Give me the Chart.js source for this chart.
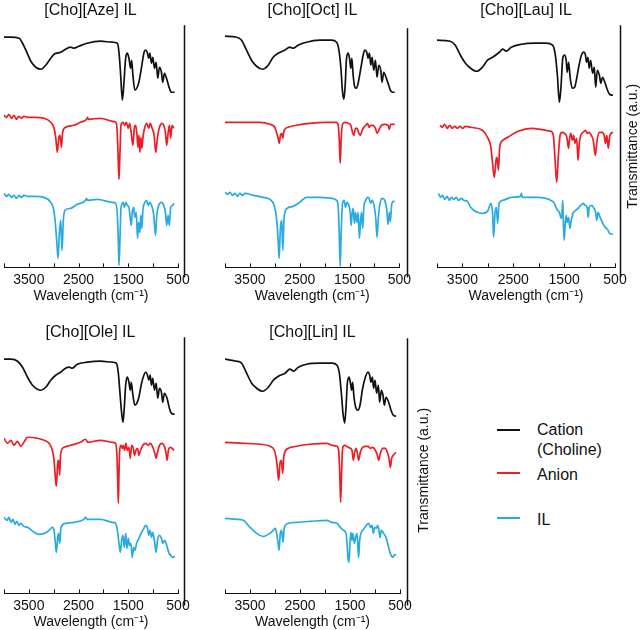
<!DOCTYPE html>
<html>
<head>
<meta charset="utf-8">
<script src="https://cdn.jsdelivr.net/npm/chart.js@4/dist/chart.umd.min.js"></script>
<style>
  body { margin: 0; background: #fff; width: 643px; height: 630px; position: relative; overflow: hidden;
         font-family: "Liberation Sans", Arial, Helvetica, sans-serif; color: #111; }
  canvas { position: absolute; }
  .sw { position: absolute; left: 497px; width: 23px; height: 2px; }
  .tx { position: absolute; left: 537px; font-size: 16px; line-height: 20px; }
</style>
</head>
<body>
<canvas id="aze" width="200" height="305" style="left:0;top:0"></canvas>
<canvas id="oct" width="205" height="305" style="left:210px;top:0"></canvas>
<canvas id="lau" width="223" height="305" style="left:420px;top:0"></canvas>
<canvas id="ole" width="200" height="309" style="left:0;top:322px"></canvas>
<canvas id="lin" width="222" height="309" style="left:210px;top:322px"></canvas>

<div class="sw" style="top:429px;background:#111"></div>
<div class="tx" style="top:420px">Cation<br>(Choline)</div>
<div class="sw" style="top:472px;background:#ee1c25"></div>
<div class="tx" style="top:465px">Anion</div>
<div class="sw" style="top:517px;background:#29abe2"></div>
<div class="tx" style="top:510px">IL</div>

<script>
// x ticks (cm-1) and trace colours
const wnMin = 500, wnMax = 4000, wnStep = 500;
const seriesNames = ['Cation (Choline)', 'Anion', 'IL'];
const seriesColors = ['#111111', '#ee1c25', '#29abe2'];

// Spectra: [wavenumber, transmittance (a.u., stacked offset)]
const azeCation = [[4000,230],[3860,230],[3693,229],[3627,224],[3560,217],[3460,206],[3360,200],[3260,198],[3160,202],[3060,209],[2993,213],[2860,215],[2727,219],[2660,220],[2593,219],[2493,221],[2327,224],[2060,226],[1820,225],[1720,224],[1687,215],[1653,192],[1620,167],[1587,185],[1553,209],[1520,214],[1487,209],[1453,199],[1433,207],[1407,192],[1367,177],[1320,180],[1287,185],[1233,200],[1187,214],[1153,217],[1120,215],[1087,209],[1067,214],[1033,204],[1007,210],[973,199],[940,205],[907,189],[873,200],[833,195],[807,185],[773,194],[720,187],[673,179],[633,175],[567,175]];
const azeAnion = [[4000,152],[3950,150],[3900,153],[3850,149],[3800,152],[3750,148],[3700,151],[3650,149],[3600,151],[3530,150],[3393,150],[3193,149],[3060,145],[2993,139],[2960,130],[2927,115],[2900,129],[2873,132],[2847,120],[2820,135],[2760,140],[2593,142],[2460,145],[2340,148],[2320,150],[2300,148],[2060,149],[1820,146],[1753,145],[1727,139],[1707,115],[1687,88],[1667,115],[1647,142],[1607,145],[1573,142],[1540,145],[1500,139],[1473,144],[1440,134],[1407,122],[1380,139],[1353,142],[1327,134],[1307,120],[1287,132],[1267,115],[1247,130],[1227,119],[1200,132],[1167,140],[1127,144],[1087,139],[1060,144],[1020,139],[980,132],[947,115],[913,130],[873,140],[820,144],[787,142],[753,135],[727,122],[700,134],[673,142],[647,129],[620,142],[587,139]];
const azeIL = [[4000,74],[3950,71],[3900,73],[3850,70],[3800,72],[3750,69],[3700,72],[3650,70],[3600,72],[3530,71],[3393,71],[3193,70],[3060,65],[3007,59],[2973,47],[2940,27],[2913,9],[2887,34],[2860,47],[2833,17],[2807,47],[2773,57],[2660,59],[2527,63],[2360,67],[2340,69],[2320,67],[2127,68],[1820,65],[1753,64],[1720,52],[1700,25],[1687,2],[1667,29],[1647,59],[1607,65],[1580,60],[1553,65],[1520,62],[1487,60],[1460,49],[1440,42],[1420,55],[1393,60],[1367,50],[1340,55],[1313,29],[1293,45],[1267,35],[1247,52],[1227,39],[1207,57],[1173,64],[1133,67],[1100,62],[1067,65],[1020,60],[987,52],[953,32],[927,52],[887,62],[833,65],[787,62],[753,55],[727,42],[700,52],[673,42],[647,60],[607,62],[580,64]];

const octCation = [[4000,231],[3767,230],[3667,227],[3567,217],[3467,207],[3367,201],[3247,198],[3133,202],[3033,210],[2933,214],[2800,217],[2700,220],[2633,219],[2533,222],[2367,225],[2100,227],[1860,227],[1760,225],[1713,217],[1673,199],[1640,175],[1613,168],[1587,182],[1560,209],[1527,214],[1500,209],[1473,199],[1453,209],[1427,192],[1393,180],[1360,179],[1327,184],[1273,199],[1227,212],[1193,217],[1153,215],[1127,209],[1100,214],[1073,202],[1047,210],[1013,197],[980,207],[947,190],[913,202],[873,197],[847,185],[813,195],[760,189],[713,182],[680,177],[627,175],[593,175]];
const octAnion = [[4000,145],[3633,145],[3300,145],[3100,143],[3000,140],[2967,135],[2933,129],[2913,124],[2887,132],[2860,134],[2840,129],[2813,137],[2733,140],[2567,142],[2300,144],[1967,145],[1860,145],[1760,145],[1727,142],[1707,129],[1687,104],[1667,129],[1640,143],[1593,145],[1527,144],[1473,142],[1440,135],[1413,132],[1380,139],[1347,139],[1313,134],[1280,132],[1247,137],[1213,140],[1173,142],[1140,144],[1107,140],[1073,142],[1027,142],[980,139],[947,134],[913,137],[860,142],[793,143],[727,142],[700,138],[673,143],[593,143]];
const octIL = [[4000,75],[3950,73],[3900,75],[3850,72],[3800,74],[3750,71],[3700,74],[3650,72],[3600,74],[3433,72],[3233,70],[3100,68],[3013,62],[2967,50],[2933,27],[2913,9],[2887,40],[2860,47],[2840,17],[2813,50],[2753,59],[2633,61],[2500,65],[2367,70],[2100,70],[1860,69],[1760,67],[1727,60],[1707,35],[1687,1],[1667,35],[1640,64],[1607,67],[1580,60],[1553,65],[1513,62],[1487,55],[1467,42],[1447,54],[1427,59],[1400,44],[1380,55],[1347,45],[1327,55],[1300,29],[1280,45],[1260,55],[1233,39],[1213,60],[1173,67],[1140,70],[1107,69],[1073,64],[1047,67],[1007,62],[973,49],[947,30],[920,50],[887,64],[840,69],[793,67],[753,58],[727,43],[700,55],[680,46],[653,63],[620,66],[593,66]];

const lauCation = [[4000,227],[3740,226],[3640,222],[3540,212],[3440,204],[3340,199],[3220,196],[3107,200],[3007,207],[2907,210],[2773,215],[2707,218],[2640,216],[2540,220],[2340,223],[2073,224],[1860,224],[1727,222],[1673,212],[1633,192],[1593,165],[1560,182],[1527,209],[1493,212],[1460,207],[1440,195],[1413,205],[1380,189],[1340,179],[1293,180],[1260,187],[1207,202],[1160,212],[1113,215],[1080,212],[1060,205],[1033,210],[1007,199],[980,207],[940,194],[907,200],[880,180],[847,197],[807,192],[780,184],[747,190],[693,184],[647,177],[607,173],[540,172]];
const lauAnion = [[3940,142],[3900,140],[3850,143],[3800,139],[3750,142],[3700,139],[3650,141],[3600,139],[3550,141],[3500,139],[3440,141],[3340,140],[3107,137],[3007,130],[2940,120],[2907,104],[2873,90],[2840,107],[2820,110],[2793,97],[2767,120],[2707,127],[2607,130],[2407,136],[2140,139],[1860,137],[1760,136],[1713,132],[1680,109],[1647,85],[1613,112],[1580,132],[1547,135],[1493,134],[1447,130],[1413,119],[1393,129],[1367,134],[1340,127],[1313,132],[1287,124],[1253,129],[1227,107],[1200,125],[1173,132],[1127,135],[1080,137],[1047,134],[1007,135],[967,132],[927,127],[887,112],[853,127],[807,135],[760,135],[713,132],[687,124],[660,132],[633,119],[600,132],[540,135]];
const lauIL = [[3973,74],[3930,70],[3890,72],[3850,68],[3800,71],[3760,67],[3720,70],[3673,68],[3620,70],[3580,67],[3520,69],[3473,67],[3400,66],[3340,60],[3207,55],[3107,54],[3007,56],[2940,64],[2907,54],[2887,30],[2860,54],[2833,60],[2807,44],[2780,64],[2707,67],[2540,70],[2360,71],[2340,74],[2320,70],[2007,70],[1860,69],[1760,67],[1693,64],[1660,60],[1627,57],[1593,55],[1560,49],[1540,55],[1527,67],[1513,42],[1500,27],[1480,42],[1460,52],[1440,45],[1413,50],[1387,39],[1360,47],[1327,54],[1273,57],[1227,59],[1173,62],[1127,64],[1087,62],[1047,60],[1027,50],[1007,60],[960,62],[913,59],[880,55],[860,47],[833,55],[793,50],[740,44],[693,40],[647,38],[607,34],[540,33]];

const oleCation = [[4000,234],[3860,234],[3727,232],[3627,226],[3527,216],[3427,208],[3327,204],[3260,203],[3160,206],[3060,213],[2960,218],[2860,221],[2760,225],[2693,226],[2627,225],[2527,229],[2327,231],[2060,232],[1820,231],[1740,230],[1700,220],[1667,200],[1633,180],[1607,171],[1580,186],[1553,208],[1520,216],[1487,211],[1460,203],[1440,211],[1407,198],[1367,188],[1327,190],[1287,196],[1233,210],[1187,218],[1147,221],[1113,218],[1087,213],[1060,218],[1033,208],[1007,215],[973,203],[940,210],[907,195],[873,205],[833,201],[807,191],[773,200],[720,195],[673,185],[633,180],[567,179]];
const oleAnion = [[4000,155],[3930,150],[3860,153],[3800,148],[3730,152],[3660,147],[3600,151],[3527,156],[3327,155],[3193,153],[3093,150],[3027,143],[2993,133],[2967,116],[2947,107],[2920,130],[2900,133],[2880,118],[2860,140],[2793,146],[2660,148],[2460,151],[2360,154],[2313,151],[2060,153],[1820,151],[1753,150],[1727,136],[1713,113],[1700,90],[1687,120],[1673,143],[1647,148],[1620,145],[1600,148],[1573,143],[1547,150],[1520,143],[1487,146],[1460,135],[1433,148],[1400,145],[1373,138],[1347,143],[1313,145],[1287,138],[1253,143],[1207,148],[1153,150],[1100,148],[1053,150],[1007,146],[967,140],[940,135],[913,141],[873,148],[820,150],[767,146],[740,140],[720,133],[693,143],[653,146],[620,145],[580,143]];
const oleIL = [[4000,76],[3940,73],[3900,76],[3860,71],[3820,74],[3780,69],[3740,72],[3700,68],[3660,70],[3600,67],[3527,66],[3393,61],[3293,59],[3193,60],[3093,63],[3027,66],[2993,63],[2967,50],[2947,41],[2920,56],[2900,60],[2880,50],[2853,66],[2760,70],[2593,71],[2393,74],[2360,76],[2327,74],[2060,74],[1820,71],[1753,70],[1720,63],[1687,50],[1660,41],[1633,53],[1607,58],[1580,46],[1553,60],[1527,45],[1500,55],[1473,48],[1447,50],[1420,36],[1393,46],[1367,43],[1333,50],[1287,55],[1233,61],[1187,65],[1147,68],[1113,65],[1087,58],[1060,63],[1033,56],[1007,61],[967,50],[940,41],[913,53],[873,58],[833,55],[807,50],[767,53],[727,48],[687,41],[647,38],[607,36],[567,37]];

const linCation = [[4000,234],[3767,232],[3667,230],[3567,220],[3467,210],[3367,205],[3247,202],[3133,206],[3033,213],[2933,217],[2800,220],[2700,224],[2633,222],[2533,226],[2367,229],[2100,230],[1860,230],[1760,228],[1713,220],[1673,200],[1640,180],[1607,170],[1580,186],[1553,210],[1520,216],[1493,211],[1467,203],[1447,211],[1420,196],[1380,185],[1340,183],[1300,188],[1247,205],[1193,216],[1140,221],[1107,218],[1080,211],[1053,216],[1027,205],[1000,213],[967,200],[933,208],[907,191],[873,203],[840,198],[813,188],[780,196],[727,191],[680,183],[633,178],[580,177]];
const linAnion = [[4000,151],[3633,150],[3300,149],[3100,147],[3013,143],[2980,136],[2953,126],[2927,113],[2900,130],[2873,133],[2847,120],[2820,138],[2733,145],[2567,147],[2300,149],[1967,150],[1860,148],[1760,147],[1727,143],[1707,123],[1687,91],[1667,123],[1647,145],[1607,148],[1540,146],[1493,145],[1460,143],[1433,133],[1407,141],[1380,145],[1353,140],[1327,133],[1293,141],[1247,146],[1193,147],[1140,147],[1093,145],[1047,146],[993,143],[953,138],[927,133],[893,140],[847,145],[793,145],[753,141],[720,135],[693,126],[667,135],[633,138],[580,141]];
const linIL = [[4000,75],[3767,74],[3633,73],[3500,66],[3367,60],[3233,57],[3100,60],[3033,63],[2993,65],[2967,60],[2940,51],[2920,43],[2893,60],[2867,63],[2840,51],[2813,66],[2733,70],[2567,71],[2300,72],[1967,73],[1860,71],[1760,70],[1693,66],[1627,63],[1580,60],[1560,50],[1540,36],[1520,31],[1500,50],[1480,61],[1460,53],[1440,60],[1413,50],[1387,56],[1360,60],[1340,45],[1327,36],[1307,53],[1273,61],[1227,64],[1173,68],[1127,70],[1087,66],[1060,68],[1033,60],[1007,66],[973,65],[947,68],[920,63],[900,56],[873,63],[827,60],[780,56],[727,46],[687,39],[647,36],[620,38],[580,39]];

// inward x tick marks, the right-hand frame line and the rotated y label
const panelFrame = {
  id: 'panelFrame',
  afterDraw(chart, args, opts) {
    const { ctx, chartArea } = chart;
    const xs = chart.scales.x;
    ctx.save();
    ctx.strokeStyle = '#111';
    ctx.lineWidth = 1;
    xs.ticks.forEach(t => {
      const px = Math.round(xs.getPixelForValue(t.value)) + 0.5;
      ctx.beginPath();
      ctx.moveTo(px, chartArea.bottom);
      ctx.lineTo(px, chartArea.bottom - 4);
      ctx.stroke();
    });
    const lx = Math.round(chartArea.right + opts.gap) + 0.5;
    ctx.lineWidth = 1.5;
    ctx.beginPath();
    ctx.moveTo(lx, chartArea.top - opts.above);
    ctx.lineTo(lx, chartArea.bottom + opts.below);
    ctx.stroke();
    if (opts.label) {
      ctx.translate(chartArea.right + opts.labelGap, (chartArea.top + chartArea.bottom) / 2);
      ctx.rotate(-Math.PI / 2);
      ctx.font = '14px "Liberation Sans", Arial, sans-serif';
      ctx.fillStyle = '#111';
      ctx.textAlign = 'center';
      ctx.textBaseline = 'middle';
      ctx.fillText(opts.label, 0, 0);
    }
    ctx.restore();
  }
};

Chart.defaults.font.family = '"Liberation Sans", Arial, Helvetica, sans-serif';
Chart.defaults.color = '#111';

function makePanel(id, title, traces, cfg) {
  new Chart(document.getElementById(id), {
    type: 'line',
    data: {
      datasets: traces.map((pts, i) => ({
        label: seriesNames[i],
        data: pts.map(([x, y]) => ({ x, y })),
        borderColor: seriesColors[i],
        borderWidth: 1.7,
        pointRadius: 0,
        cubicInterpolationMode: 'monotone',
        fill: false
      }))
    },
    options: {
      responsive: false,
      animation: false,
      events: [],
      layout: { padding: { left: cfg.padL, right: cfg.padR, top: 0, bottom: 0 } },
      scales: {
        x: {
          type: 'linear',
          reverse: true,
          min: wnMin,
          max: wnMax,
          grid: { drawOnChartArea: false, drawTicks: false },
          border: { display: true, color: '#111', width: 1 },
          ticks: {
            stepSize: wnStep,
            autoSkip: false,
            maxRotation: 0,
            padding: 4,
            font: { size: 14 },
            color: '#111',
            callback: v => (v % 1000 === 500 ? String(v) : '')
          },
          title: {
            display: true,
            text: 'Wavelength (cm\u207B\u00B9)',
            font: { size: 14 },
            color: '#111',
            padding: { top: -4, bottom: 0 }
          }
        },
        y: { display: false, min: 0, max: cfg.yMax }
      },
      plugins: {
        legend: { display: false },
        tooltip: { enabled: false },
        title: {
          display: true,
          text: title,
          font: { size: 16, weight: 'normal' },
          color: '#111',
          padding: { top: 1, bottom: 5 }
        },
        panelFrame: cfg.frame
      }
    },
    plugins: [panelFrame]
  });
}

const rowTop = { yMax: 242 };
const rowBottom = { yMax: 246 };

makePanel('aze', '[Cho][Aze] IL', [azeCation, azeAnion, azeIL],
  { ...rowTop, padL: 3, padR: 22, frame: { gap: 6, above: 0, below: 10 } });
makePanel('oct', '[Cho][Oct] IL', [octCation, octAnion, octIL],
  { ...rowTop, padL: 15, padR: 15, frame: { gap: 8, above: -3, below: 10 } });
makePanel('lau', '[Cho][Lau] IL', [lauCation, lauAnion, lauIL],
  { ...rowTop, padL: 17, padR: 28, frame: { gap: 5, above: 0, below: 10, label: 'Transmittance (a.u.)', labelGap: 18 } });
makePanel('ole', '[Cho][Ole] IL', [oleCation, oleAnion, oleIL],
  { ...rowBottom, padL: 3, padR: 22, frame: { gap: 6, above: 10, below: 12 } });
makePanel('lin', '[Cho][Lin] IL', [linCation, linAnion, linIL],
  { ...rowBottom, padL: 15, padR: 32, frame: { gap: 7, above: 9, below: 12, label: 'Transmittance (a.u.)', labelGap: 24 } });
</script>
</body>
</html>
